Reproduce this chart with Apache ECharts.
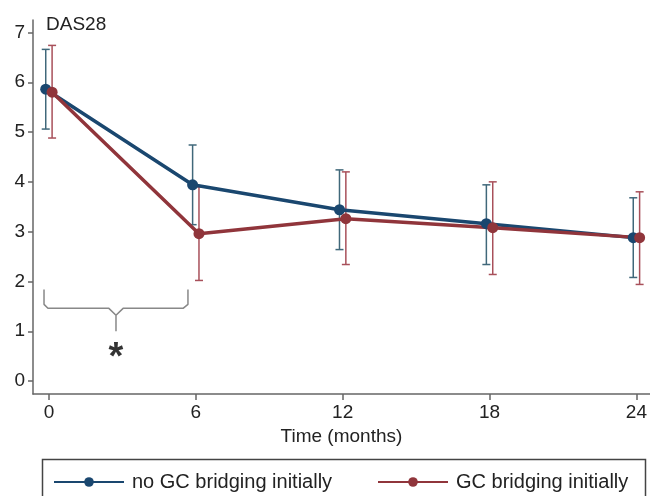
<!DOCTYPE html>
<html>
<head>
<meta charset="utf-8">
<script src="https://cdn.jsdelivr.net/npm/echarts@6/dist/echarts.min.js"></script>
<style>html,body{margin:0;padding:0;background:#fff}#c{width:650px;height:496px}</style>
</head>
<body>
<div id="c"></div>
<script>
const months = [0, 6, 12, 18, 24];
const yTicks = [0, 1, 2, 3, 4, 5, 6, 7];
const noGcName = 'no GC bridging initially';
const gcName = 'GC bridging initially';
const noGcMean = [5.86, 3.94, 3.44, 3.16, 2.88];
const noGcLow  = [5.06, 3.14, 2.64, 2.34, 2.08];
const noGcHigh = [6.66, 4.74, 4.24, 3.94, 3.68];
const gcMean = [5.80, 2.96, 3.26, 3.08, 2.88];
const gcLow  = [4.88, 2.02, 2.34, 2.14, 1.94];
const gcHigh = [6.74, 3.90, 4.20, 4.00, 3.80];

const DODGE = 0.13;
const BLUE = '#1a476f', RED = '#90353b';
const BLUE_ERR = '#40687a', RED_ERR = '#a8505a';
const FONT = 'Liberation Sans, Arial, sans-serif';
const FS = 19;
const LFS = 20;

function errSeries(name, mean, low, high, color, off) {
  return {
    type: 'custom', name: name + ' CI', silent: true, z: 2,
    data: months.map((m, i) => [m + off, low[i], high[i]]),
    renderItem: function (params, api) {
      const lo = api.coord([api.value(0), api.value(1)]);
      const hi = api.coord([api.value(0), api.value(2)]);
      const w = 4;
      const st = { stroke: color, lineWidth: 1.5 };
      return { type: 'group', children: [
        { type: 'line', shape: { x1: lo[0], y1: lo[1], x2: hi[0], y2: hi[1] }, style: st },
        { type: 'line', shape: { x1: lo[0] - w, y1: lo[1], x2: lo[0] + w, y2: lo[1] }, style: st },
        { type: 'line', shape: { x1: hi[0] - w, y1: hi[1], x2: hi[0] + w, y2: hi[1] }, style: st }
      ]};
    }
  };
}
function lineSeries(name, mean, color, off) {
  return {
    type: 'line', name: name, z: 5,
    data: months.map((m, i) => [m + off, mean[i]]),
    symbol: 'circle', symbolSize: 11,
    lineStyle: { color: color, width: 3.5 },
    itemStyle: { color: color },
    emphasis: { disabled: true }
  };
}
const brace = [[-0.2,1.84],[-0.2,1.54],[-0.04,1.46],[2.45,1.46],[2.74,1.32],[2.74,1.0],[2.74,1.32],[3.03,1.46],[5.48,1.46],[5.68,1.54],[5.68,1.84]];

const chart = echarts.init(document.getElementById('c'), null, { renderer: 'canvas' });
chart.setOption({
  animation: false,
  backgroundColor: '#fff',
  textStyle: { fontFamily: FONT },
  title: { text: 'DAS28', left: 41, top: 10, textStyle: { fontSize: FS, fontWeight: 'normal', color: '#222', fontFamily: FONT } },
  grid: { left: 33, right: 0, top: 20, bottom: 102, containLabel: false },
  xAxis: {
    type: 'value', min: -0.65, max: 24.55,
    name: 'Time (months)', nameLocation: 'middle', nameGap: 30,
    nameTextStyle: { fontSize: FS, color: '#222', fontFamily: FONT },
    axisLine: { show: true, onZero: false, lineStyle: { color: '#666', width: 1.5 } },
    axisTick: { show: true, customValues: months, length: 6, lineStyle: { color: '#666', width: 1.5 } },
    axisLabel: { customValues: months, fontSize: FS, color: '#222', margin: 9, fontFamily: FONT },
    splitLine: { show: false }
  },
  yAxis: {
    type: 'value', min: -0.26, max: 7.25,
    axisLine: { show: true, onZero: false, lineStyle: { color: '#666', width: 1.5 } },
    axisTick: { show: true, customValues: yTicks, length: 5, lineStyle: { color: '#666', width: 1.5 } },
    axisLabel: { customValues: yTicks, fontSize: FS, color: '#222', margin: 8, fontFamily: FONT },
    splitLine: { show: false }
  },
  legend: [
    { data: [noGcName], left: 48, top: 467, itemWidth: 70, itemHeight: 12,
      textStyle: { fontSize: LFS, color: '#222', padding: [0, 0, 0, 3], fontFamily: FONT } },
    { data: [gcName], left: 372, top: 467, itemWidth: 70, itemHeight: 12,
      textStyle: { fontSize: LFS, color: '#222', padding: [0, 0, 0, 3], fontFamily: FONT } }
  ],
  graphic: [
    { type: 'rect', left: 40, top: 457, shape: { width: 603, height: 60 },
      style: { fill: 'none', stroke: '#444', lineWidth: 1.5 }, silent: true }
  ],
  series: [
    errSeries(noGcName, noGcMean, noGcLow, noGcHigh, BLUE_ERR, -DODGE),
    errSeries(gcName, gcMean, gcLow, gcHigh, RED_ERR, DODGE),
    lineSeries(noGcName, noGcMean, BLUE, -DODGE),
    lineSeries(gcName, gcMean, RED, DODGE),
    { type: 'line', name: 'brace', silent: true, data: brace, symbol: 'none', z: 1,
      lineStyle: { color: '#888', width: 1.5 } },
    { type: 'scatter', name: 'sig', silent: true, data: [[2.74, 0.46]], symbolSize: 0,
      label: { show: true, formatter: '*', position: 'inside', fontSize: 38, fontWeight: 'bold', color: '#000', fontFamily: FONT } }
  ]
});
</script>
</body>
</html>
